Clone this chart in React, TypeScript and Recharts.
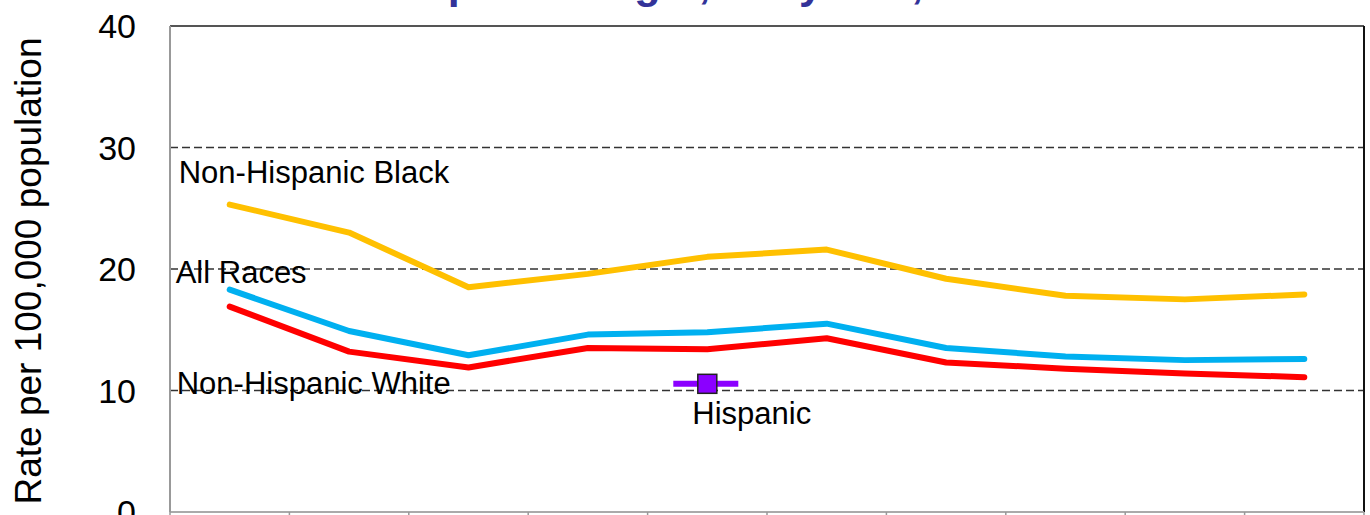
import React from "react";
import { LineChart, Line, XAxis, YAxis, CartesianGrid, ReferenceLine, LabelList } from "recharts";

// rates per 100,000 population, one value per year
const years = ["2003", "2004", "2005", "2006", "2007", "2008", "2009", "2010", "2011", "2012"];
const nhBlack = [25.3, 23.0, 18.5, 19.6, 21.0, 21.6, 19.2, 17.8, 17.5, 17.9];
const allRaces = [18.3, 14.9, 12.9, 14.6, 14.8, 15.5, 13.5, 12.8, 12.5, 12.6];
const nhWhite = [16.9, 13.2, 11.9, 13.5, 13.4, 14.3, 12.3, 11.8, 11.4, 11.1];
const hispanic: (number | null)[] = [null, null, null, null, 10.55, null, null, null, null, null];

const yTicks = [0, 10, 20, 30, 40];
const gridValues = [10, 20, 30];

const data = years.map((year, i) => ({
  year,
  x: i + 0.5, // centre of each year band, ticks sit on the band edges
  nhBlack: nhBlack[i],
  allRaces: allRaces[i],
  nhWhite: nhWhite[i],
  hispanic: hispanic[i],
}));
const xTicks = Array.from({ length: years.length + 1 }, (_, i) => i);

const FONT = "'Liberation Sans', Arial, sans-serif";

// series name written once, next to a chosen point
const seriesLabel = (text: string, at: number, dx: number, dy: number, anchor = "start") =>
  (props: any) => {
    if (props.index !== at || props.x == null || props.y == null) return null;
    return (
      <text x={props.x + dx} y={props.y + dy} textAnchor={anchor} fontSize={31} fontFamily={FONT} fill="#000">
        {text}
      </text>
    );
  };

const HispanicDot = (props: any) => {
  const { cx, cy, value } = props;
  if (value == null || cx == null || cy == null) return null;
  return (
    <g>
      <line x1={cx - 34} x2={cx + 31} y1={cy} y2={cy} stroke="#8B00FF" strokeWidth={6} />
      <rect x={cx - 9.5} y={cy - 9.5} width={19} height={19} fill="#8B00FF" stroke="#222" strokeWidth={1.5} />
    </g>
  );
};

const YTitle = (props: any) => {
  const vb = props.viewBox || {};
  const cx = (vb.x ?? 0) + 18;
  const cy = (vb.y ?? 0) + (vb.height ?? 0) / 2 + 2;
  return (
    <text x={cx} y={cy} transform={`rotate(-90 ${cx} ${cy})`} textAnchor="middle" dominantBaseline="central"
      fontSize={37} fontFamily={FONT} fill="#000">
      Rate per 100,000 population
    </text>
  );
};

export default function App() {
  return (
    <div style={{ position: "absolute", left: 0, top: 0, width: 1370, height: 515, background: "#fff", overflow: "hidden" }}>
      <div
        style={{
          position: "absolute", left: 0, width: 1536, top: -40, textAlign: "center",
          fontFamily: FONT, fontWeight: "bold", fontSize: 43, color: "#333399", lineHeight: "46px",
        }}
      >
        Hispanic Origin, Maryland, 2003-2012:
      </div>
      <LineChart width={1370} height={515} data={data} margin={{ top: 26, right: 6, bottom: 0, left: 10 }}>
        <CartesianGrid vertical={false} horizontalValues={gridValues} stroke="#333" strokeWidth={1.6} strokeDasharray="8 4" />
        <XAxis
          type="number"
          dataKey="x"
          domain={[0, years.length]}
          ticks={xTicks}
          interval={0}
          tickFormatter={() => ""}
          height={3}
          tickSize={4}
          axisLine={{ stroke: "#aaa", strokeWidth: 2 }}
          tickLine={{ stroke: "#999", strokeWidth: 1.5 }}
        />
        <YAxis
          domain={[0, 40]}
          ticks={yTicks}
          interval={0}
          width={160}
          tickSize={0}
          tickMargin={34}
          tickLine={false}
          axisLine={{ stroke: "#999", strokeWidth: 2 }}
          tick={{ fontSize: 34, fontFamily: FONT, fill: "#000" }}
          label={<YTitle />}
        />
        <ReferenceLine y={40} stroke="#555" strokeWidth={2} />
        <ReferenceLine x={years.length} stroke="#111" strokeWidth={2} />
        <Line dataKey="nhBlack" stroke="#FFC000" strokeWidth={6} dot={false} isAnimationActive={false}
          strokeLinecap="round" strokeLinejoin="round">
          <LabelList content={seriesLabel("Non-Hispanic Black", 0, -51, -22)} />
        </Line>
        <Line dataKey="allRaces" stroke="#00B0F0" strokeWidth={6} dot={false} isAnimationActive={false}
          strokeLinecap="round" strokeLinejoin="round">
          <LabelList content={seriesLabel("All Races", 0, -54, -7)} />
        </Line>
        <Line dataKey="nhWhite" stroke="#FF0000" strokeWidth={6} dot={false} isAnimationActive={false}
          strokeLinecap="round" strokeLinejoin="round">
          <LabelList content={seriesLabel("Non-Hispanic White", 0, -53, 87)} />
        </Line>
        <Line dataKey="hispanic" stroke="none" dot={<HispanicDot />} activeDot={false} isAnimationActive={false}>
          <LabelList content={seriesLabel("Hispanic", 4, -15, 40)} />
        </Line>
      </LineChart>
    </div>
  );
}
